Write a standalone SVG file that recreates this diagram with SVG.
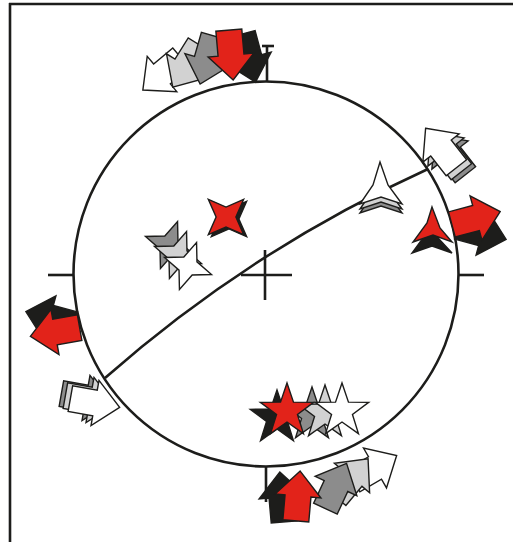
<svg xmlns="http://www.w3.org/2000/svg" xmlns:xlink="http://www.w3.org/1999/xlink" width="513" height="542" viewBox="0 0 513 542">
<style>
.s{stroke:#1d1d1b;stroke-width:1.4;stroke-linejoin:miter}
.r{fill:#e2231a}
.k{fill:#1d1d1b}
.d{fill:#8c8c8c}
.l{fill:#d2d2d2}
.w{fill:#ffffff}
.ln{fill:none;stroke:#1d1d1b;stroke-width:2.6}
</style>
<defs>
<path id="arr" d="M0,-25 L23,0 L13,0 L13,25 L-13,25 L-13,0 L-23,0 Z"/>
<path id="st4" d="M0,-25 L7,-7 L25,0 L7,7 L0,25 L-7,7 L-25,0 L-7,-7 Z"/>
<path id="st5" d="M0,-28 L6.47,-8.9 L26.63,-8.65 L10.46,3.4 L16.46,22.65 L0,11 L-16.46,22.65 L-10.46,3.4 L-26.63,-8.65 L-6.47,-8.9 Z"/>
</defs>
<rect width="513" height="542" fill="#ffffff"/>
<g id="frame">
<line x1="9" y1="4" x2="513" y2="4" class="ln" stroke-width="3"/>
<line x1="10" y1="3" x2="10" y2="542" class="ln" stroke-width="3"/>
</g>
<g id="net">
<circle cx="266" cy="274" r="192.5" class="ln"/>
<line x1="241" y1="275" x2="292" y2="275" class="ln"/>
<line x1="265" y1="250" x2="265" y2="300" class="ln"/>
<line x1="48" y1="275" x2="74" y2="275" class="ln"/>
<line x1="458" y1="275" x2="484" y2="275" class="ln"/>
<line x1="267" y1="46" x2="267" y2="82" class="ln"/>
<line x1="266" y1="467" x2="266" y2="502" class="ln"/>
</g>
<g id="connectors">
<path d="M105,378 Q250,250 428,169" class="ln"/>
</g>
<g id="top-arrows" class="s">
<use xlink:href="#arr" class="w" transform="translate(162,74) rotate(230)"/>
<use xlink:href="#arr" class="l" transform="translate(186,66) rotate(212)"/>
<use xlink:href="#arr" class="d" transform="translate(207,60) rotate(196)"/>
<use xlink:href="#arr" class="k" transform="translate(249,58) rotate(165)"/>
<use xlink:href="#arr" class="r" transform="translate(231,55) rotate(175)"/>
<line x1="262" y1="46" x2="274" y2="46" class="ln" stroke-width="2.5"/>
</g>
<g id="right-arrows" class="s">
<use xlink:href="#arr" class="d" transform="translate(450,155) rotate(-38)"/>
<use xlink:href="#arr" class="l" transform="translate(446,152) rotate(-38)"/>
<use xlink:href="#arr" class="w" transform="translate(441,148) rotate(-38)"/>
<use xlink:href="#arr" class="k" transform="translate(482,233) rotate(105)"/>
<use xlink:href="#arr" class="r" transform="translate(476,218) rotate(75)"/>
</g>
<g id="left-arrows" class="s">
<use xlink:href="#arr" class="k" transform="translate(50,318) rotate(-75)"/>
<use xlink:href="#arr" class="r" transform="translate(55,332) rotate(-100)"/>
<use xlink:href="#arr" class="d" transform="translate(86,398) rotate(100)"/>
<use xlink:href="#arr" class="l" transform="translate(90,400) rotate(100)"/>
<use xlink:href="#arr" class="w" transform="translate(95,403) rotate(100)"/>
</g>
<g id="bottom-arrows" class="s">
<use xlink:href="#arr" class="w" transform="translate(375,468) rotate(60)"/>
<use xlink:href="#arr" class="l" transform="translate(352,478) rotate(40)"/>
<use xlink:href="#arr" class="d" transform="translate(336,486) rotate(25)"/>
<use xlink:href="#arr" class="k" transform="translate(282,497) rotate(-5)"/>
<use xlink:href="#arr" class="r" transform="translate(298,496) rotate(5)"/>
</g>
<g id="stars4" class="s">
<use xlink:href="#st4" class="d" transform="translate(169,245) rotate(20)"/>
<use xlink:href="#st4" class="l" transform="translate(178,255) rotate(20)"/>
<use xlink:href="#st4" class="w" transform="translate(188,266) rotate(20)"/>
<use xlink:href="#st4" class="k" transform="translate(229,219) rotate(45)"/>
<use xlink:href="#st4" class="r" transform="translate(226,217) rotate(45)"/>
</g>
<g id="stars3" class="s">
<path class="d" d="M380,171 L388,194 L402,213 L381,206 L360,213 L373,194 Z"/>
<path class="l" d="M380,167 L388,190 L402,209 L381,202 L360,209 L373,190 Z"/>
<path class="w" d="M380,162 L388,185 L402,204 L381,197 L360,204 L373,185 Z"/>
<path class="k" d="M431,218 L439,239 L452,253 L432,246 L412,253 L426,234 Z"/>
<path class="r" d="M432,207 L440,228 L452,242 L433,235 L413,242 L427,223 Z"/>
</g>
<g id="stars5" class="s">
<use xlink:href="#st5" class="k" transform="translate(277,418)"/>
<use xlink:href="#st5" class="d" transform="translate(312,415)"/>
<use xlink:href="#st5" class="l" transform="translate(325,413)"/>
<use xlink:href="#st5" class="w" transform="translate(342,411)"/>
<use xlink:href="#st5" class="r" transform="translate(287,411)"/>
</g>
</svg>
